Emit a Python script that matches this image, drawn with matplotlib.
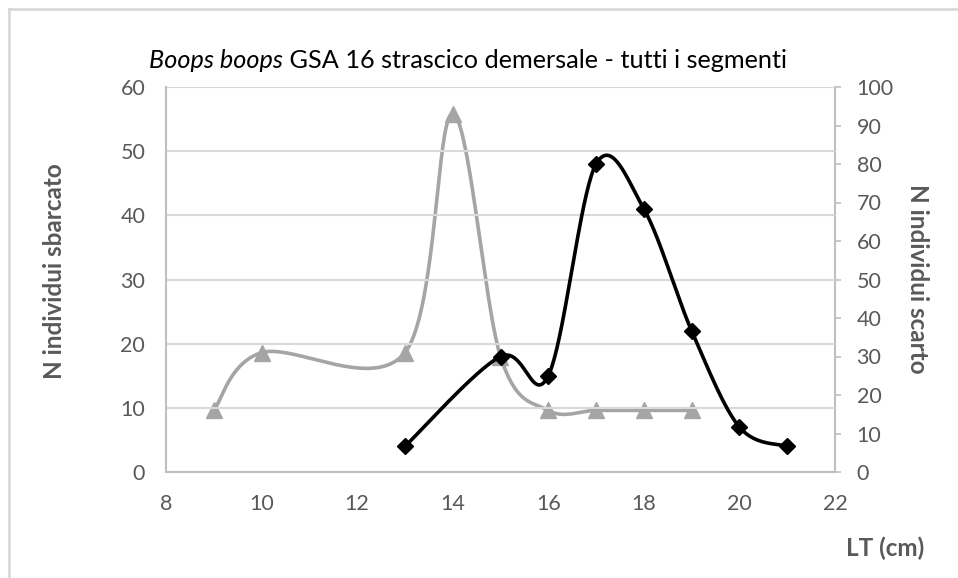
import numpy as np
import matplotlib
matplotlib.use("Agg")
import matplotlib.pyplot as plt
from matplotlib.lines import Line2D

plt.rcParams['font.family'] = ['Lato', 'DejaVu Sans']

# Data
lt_sbarcato = [13, 15, 16, 17, 18, 19, 20, 21]
n_sbarcato = [4, 18, 15, 48, 41, 22, 7, 4]
lt_scarto = [9, 10, 13, 14, 15, 16, 17, 18, 19]
n_scarto = [16, 31, 31, 93, 30, 16, 16, 16, 16]

title_italic = "Boops boops"
title_rest = " GSA 16 strascico demersale - tutti i segmenti"
xlabel = "LT (cm)"
ylabel_left = "N individui sbarcato"
ylabel_right = "N individui scarto"

GREY_TXT = '#595959'
GRID = '#d9d9d9'
AXIS = '#bfbfbf'


def smooth(x, y, n=40):
    """Excel-like smoothed line: cubic Bezier with Catmull-Rom control points."""
    x = np.asarray(x, float)
    y = np.asarray(y, float)
    P = np.column_stack([x, y])
    out = []
    m = len(P)
    for i in range(m - 1):
        p0 = P[i - 1] if i > 0 else P[i]
        p1 = P[i]
        p2 = P[i + 1]
        p3 = P[i + 2] if i + 2 < m else P[i + 1]
        c1 = p1 + (p2 - p0) / 6.0
        c2 = p2 - (p3 - p1) / 6.0
        t = np.linspace(0, 1, n)[:, None]
        seg = ((1 - t) ** 3) * p1 + 3 * ((1 - t) ** 2) * t * c1 + 3 * (1 - t) * t ** 2 * c2 + t ** 3 * p2
        if i > 0:
            seg = seg[1:]
        out.append(seg)
    out = np.vstack(out)
    return out[:, 0], out[:, 1]


fig = plt.figure(figsize=(9.58, 5.78), dpi=100)
ax = fig.add_axes([166 / 958, 1 - 472 / 578, (835 - 166) / 958, (472 - 87) / 578])
ax2 = ax.twinx()

ax.set_xlim(8, 22)
ax.set_ylim(0, 60)
ax2.set_ylim(0, 100)
ax.set_xticks(np.arange(8, 23, 2))
ax.set_yticks(np.arange(0, 61, 10))
ax2.set_yticks(np.arange(0, 101, 10))

ax.grid(axis='y', color=GRID, linewidth=1.5)
ax.set_axisbelow(True)

for a in (ax, ax2):
    for s in a.spines.values():
        s.set_visible(False)
ax.spines['left'].set_visible(True)
ax.spines['bottom'].set_visible(True)
ax2.spines['right'].set_visible(True)
for s in (ax.spines['left'], ax.spines['bottom'], ax2.spines['right']):
    s.set_color(AXIS)
    s.set_linewidth(1.5)

TICK_FS = 15.5
ax.tick_params(axis='y', length=0, pad=15, labelsize=TICK_FS, labelcolor=GREY_TXT)
ax.tick_params(axis='x', length=0, pad=16, labelsize=TICK_FS, labelcolor=GREY_TXT)
ax2.tick_params(axis='y', length=4.5, width=1.2, color=AXIS, pad=11, labelsize=TICK_FS,
                labelcolor=GREY_TXT)

# Grey series (scarto) on right axis
sx, sy = smooth(lt_scarto, n_scarto)
ax2.plot(sx, sy, color='#a5a5a5', linewidth=2.6, solid_capstyle='round', zorder=2)
ax2.plot(lt_scarto, n_scarto, linestyle='none', marker='^', markersize=11.5,
         color='#a5a5a5', zorder=3)

# Black series (sbarcato) on left axis, drawn on top
ax2.set_zorder(1)
ax.set_zorder(2)
ax.patch.set_visible(False)
bx, by = smooth(lt_sbarcato, n_sbarcato)
ax.plot(bx, by, color='black', linewidth=2.6, zorder=4)
ax.plot(lt_sbarcato, n_sbarcato, linestyle='none', marker='D', markersize=8,
        color='black', zorder=5)

# Axis labels
LAB_FS = 17.5
fig.text(55 / 958, 1 - 271 / 578, ylabel_left, rotation=90, ha='center', va='center',
         fontsize=LAB_FS, fontweight='bold', color=GREY_TXT)
fig.text(917 / 958, 1 - 279 / 578, ylabel_right, rotation=270, ha='center', va='center',
         fontsize=LAB_FS, fontweight='bold', color=GREY_TXT)
fig.text(885 / 958, 1 - 548 / 578, xlabel, ha='center', va='center',
         fontsize=LAB_FS, fontweight='bold', color=GREY_TXT)

# Title with italic species name
fig.canvas.draw()
r = fig.canvas.get_renderer()
TITLE_FS = 18.2
t1 = fig.text(0, 0, title_italic, fontsize=TITLE_FS, style='italic', color='black')
t2 = fig.text(0, 0, title_rest, fontsize=TITLE_FS, color='black')
w1 = t1.get_window_extent(r).width
w2 = t2.get_window_extent(r).width
total = w1 + w2
x0 = 468 - total / 2
yb = 578 - 68
t1.set_position((x0 / 958, yb / 578))
t2.set_position(((x0 + w1) / 958, yb / 578))
t1.set_va('baseline')
t2.set_va('baseline')

# Chart frame (left and top visible)
fig.add_artist(Line2D([9 / 958, 9 / 958], [0, 1 - 9 / 578], color=GRID, linewidth=2,
                      transform=fig.transFigure))
fig.add_artist(Line2D([9 / 958, 1], [1 - 9 / 578, 1 - 9 / 578], color=GRID, linewidth=2,
                      transform=fig.transFigure))

fig.savefig('out.png', dpi=100)
